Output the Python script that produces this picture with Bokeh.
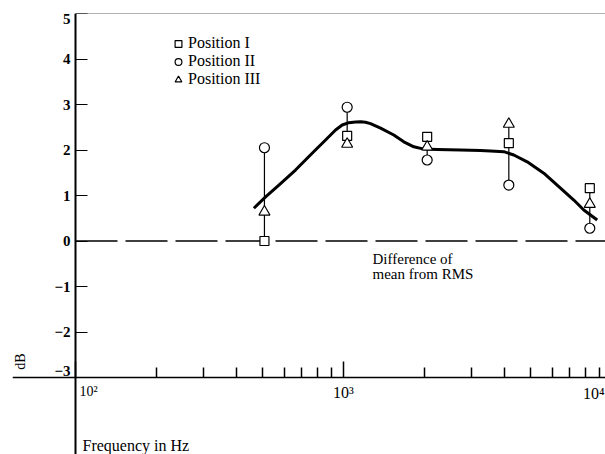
import math
from bokeh.plotting import figure
from bokeh.models import Range1d, FixedTicker, Label, Legend, LegendItem
from bokeh.embed import file_html
from bokeh.resources import INLINE

# ---------------- data ----------------
freq_hz = [507, 1032, 2052, 4139, 8299]
pos_I = [0.00, 2.31, 2.29, 2.15, 1.16]    # squares
pos_II = [2.05, 2.94, 1.78, 1.23, 0.28]   # circles
pos_III = [0.64, 2.13, 2.07, 2.57, 0.81]  # triangles

curve_hz = [463, 512, 574, 662, 764, 857, 934, 989, 1047, 1109, 1160, 1208,
            1261, 1375, 1540, 1679, 1830, 1994, 2237, 2733, 3245, 3536, 3964,
            4320, 4846, 5589, 6451, 7233, 7881, 8845]
curve_db = [0.72, 0.97, 1.23, 1.56, 1.93, 2.22, 2.44, 2.55, 2.60, 2.615, 2.62,
            2.61, 2.58, 2.48, 2.33, 2.18, 2.07, 2.02, 2.01, 2.00, 1.99, 1.978,
            1.963, 1.89, 1.74, 1.49, 1.16, 0.90, 0.68, 0.46]

y_ticks = [-3, -2, -1, 0, 1, 2, 3, 4, 5]
y_labels = {-2: "\u22122", -1: "\u22121", 0: "0", 1: "1", 2: "2", 3: "3", 4: "4",
            5: "", -3: ""}
x_major = [100, 1000, 10000]
x_minor = [200, 300, 400, 500, 600, 700, 800, 900,
           2000, 3000, 4000, 5000, 6000, 7000, 8000, 9000]
x_labels = {100: "", 1000: "10\u00b3", 10000: ""}
legend_labels = ["Position I", "Position II", "Position III"]

# ---------------- geometry ----------------
W, H = 605, 454
LEFT, TOP = 12, 13
DEC = 268.0        # px per decade
UNIT = 45.5        # px per dB
X_AXIS_AT = 100
Y_AXIS_AT = -3
x_start = 10 ** (2 - (75 - LEFT) / DEC)
x_end = 10 ** (2 + (W - 75) / DEC)
y_end = 5
y_start = y_end - (H - TOP) / UNIT

FONT = "Liberation Serif"

p = figure(width=W, height=H, x_axis_type="log",
           x_range=Range1d(x_start, x_end), y_range=Range1d(y_start, y_end),
           output_backend="svg", toolbar_location=None,
           min_border_left=LEFT, min_border_right=0,
           min_border_top=TOP, min_border_bottom=0)
p.grid.visible = False
p.outline_line_color = None
p.background_fill_color = "white"
p.border_fill_color = "white"

# axes
xa = p.xaxis[0]
xa.fixed_location = Y_AXIS_AT
xa.ticker = FixedTicker(ticks=x_major, minor_ticks=x_minor)
xa.major_label_overrides = x_labels
xa.major_tick_in = 16
xa.major_tick_out = 0
xa.minor_tick_in = 10
xa.minor_tick_out = 0
xa.axis_line_width = 1.5
xa.major_tick_line_width = 1.5
xa.minor_tick_line_width = 1.5
xa.axis_line_color = "black"
xa.major_label_text_font = FONT
xa.major_label_text_font_size = "16px"
xa.major_label_text_color = "black"
xa.major_label_standoff = 6

ya = p.yaxis[0]
ya.fixed_location = X_AXIS_AT
ya.ticker = FixedTicker(ticks=y_ticks, minor_ticks=[])
ya.major_label_overrides = y_labels
ya.major_tick_in = 12
ya.major_tick_out = 0
ya.minor_tick_in = 0
ya.minor_tick_out = 0
ya.axis_line_width = 2
ya.major_tick_line_width = 1
ya.major_label_text_font = FONT
ya.major_label_text_font_size = "15px"
ya.major_label_text_font_style = "bold"
ya.major_label_text_color = "black"
ya.major_label_standoff = 5

# top frame line and zero reference line
p.ray(x=[X_AXIS_AT], y=[y_end], length=0, angle=0, line_color="#666666", line_width=1)
p.ray(x=[X_AXIS_AT], y=[0], length=0, angle=0, line_color="black",
      line_width=1.6, line_dash="42 8")

# smooth mean curve
p.line(curve_hz, curve_db, line_color="black", line_width=3, line_join="round")

# range bars
lo = [min(a, b, c) for a, b, c in zip(pos_I, pos_II, pos_III)]
hi = [max(a, b, c) for a, b, c in zip(pos_I, pos_II, pos_III)]
p.segment(x0=freq_hz, y0=lo, x1=freq_hz, y1=hi, line_color="black", line_width=1.2)

r1 = p.scatter(freq_hz, pos_I, marker="square", size=9, fill_color="white",
               line_color="black", line_width=1.2)
r2 = p.scatter(freq_hz, pos_II, marker="circle", size=10, fill_color="white",
               line_color="black", line_width=1.2)
r3 = p.scatter(freq_hz, pos_III, marker="triangle", size=11, fill_color="white",
               line_color="black", line_width=1.2)

legend = Legend(items=[LegendItem(label=legend_labels[0], renderers=[r1]),
                       LegendItem(label=legend_labels[1], renderers=[r2]),
                       LegendItem(label=legend_labels[2], renderers=[r3])],
                location=(156, 366), padding=0, margin=0, spacing=0,
                glyph_height=17, glyph_width=20, label_height=17, label_standoff=0,
                border_line_color=None, background_fill_alpha=0,
                label_text_font=FONT, label_text_font_size="16px",
                label_text_color="black")
p.add_layout(legend)

def lab(cx, cy, text, size="15px", align="left", baseline="middle", angle=0, style="normal"):
    p.add_layout(Label(x=cx - LEFT, y=H - cy, x_units="screen", y_units="screen",
                       text=text, text_font=FONT, text_font_size=size,
                       text_align=align, text_baseline=baseline, angle=angle,
                       text_color="black", text_font_style=style))

lab(372, 258, "Difference of", "15px", baseline="alphabetic")
lab(372, 273, "mean from RMS", "15px", baseline="alphabetic")
lab(82, 445, "Frequency in Hz", "16px")
lab(20, 361, "dB", "14px", align="center", angle=math.pi / 2)
lab(70, 18, "5", "15px", align="right", style="bold")
lab(70, 370, "\u22123", "15px", align="right", style="bold")
lab(79, 391, "10\u00b2", "14px")
lab(604, 393, "10\u2074", "16px", align="right")

open("out.html", "w").write(file_html(p, INLINE))
